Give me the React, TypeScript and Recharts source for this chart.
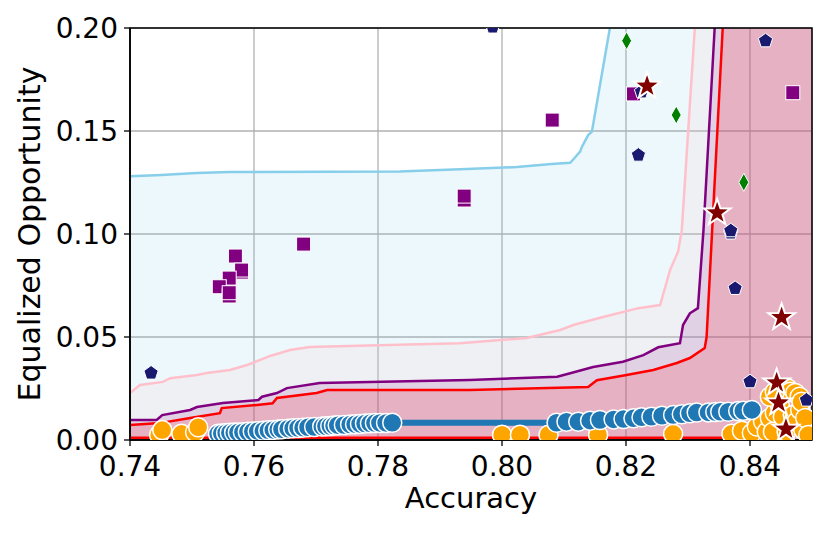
import React from "react";
import {
  ComposedChart,
  Area,
  Line,
  Scatter,
  XAxis,
  YAxis,
  CartesianGrid,
  ReferenceArea,
  Label,
} from "recharts";

type Pt = { x: number; y: number };
const pts = (rows: number[][]): Pt[] => rows.map(([x, y]) => ({ x, y }));

// axis ticks
const xTicks = [0.74, 0.76, 0.78, 0.8, 0.82, 0.84];
const yTicks = [0, 0.05, 0.1, 0.15, 0.2];

// fronts (values above 0.20 run off the top of the plot)
const skyFront = pts([
  [0.74, 0.128], [0.7451, 0.1286], [0.7507, 0.1296], [0.7561, 0.1301], [0.7835, 0.1303],
  [0.7943, 0.1315], [0.8024, 0.1325], [0.808, 0.134], [0.811, 0.1346], [0.8117, 0.1369],
  [0.8126, 0.14], [0.8129, 0.1424], [0.8139, 0.148], [0.8145, 0.1497], [0.8174, 0.2],
  [0.8196, 0.25], [0.85, 0.25],
]);
const pinkFront = pts([
  [0.74, 0.0228], [0.7416, 0.0267], [0.7453, 0.0282], [0.7465, 0.03], [0.7508, 0.0316],
  [0.7524, 0.0325], [0.7561, 0.034], [0.7589, 0.0364], [0.7626, 0.0408], [0.7658, 0.0437],
  [0.769, 0.0451], [0.78, 0.046], [0.7932, 0.047], [0.804, 0.0495], [0.8094, 0.0534],
  [0.8115, 0.0558], [0.8163, 0.0597], [0.822, 0.064], [0.8255, 0.0655], [0.8271, 0.0825],
  [0.8284, 0.0914], [0.829, 0.102], [0.8311, 0.2], [0.8322, 0.25], [0.85, 0.25],
]);
const purpleFront = pts([
  [0.74, 0.0097], [0.7443, 0.0097], [0.7452, 0.0121], [0.7497, 0.0146], [0.7508, 0.016],
  [0.755, 0.018], [0.7607, 0.0194], [0.7613, 0.021], [0.7637, 0.0228], [0.7653, 0.0252],
  [0.7706, 0.0277], [0.7948, 0.0291], [0.8089, 0.0307], [0.811, 0.0324], [0.8147, 0.0354],
  [0.8195, 0.038], [0.8228, 0.0412], [0.8252, 0.045], [0.8287, 0.047], [0.8292, 0.0558],
  [0.8303, 0.0615], [0.8316, 0.064], [0.8325, 0.102], [0.8343, 0.2], [0.8352, 0.25],
  [0.85, 0.25],
]);
const redFront = pts([
  [0.74, 0.0073], [0.7448, 0.0082], [0.7497, 0.0107], [0.7545, 0.013], [0.7548, 0.0155],
  [0.7605, 0.017], [0.763, 0.0178], [0.7637, 0.0204], [0.7701, 0.0228], [0.7718, 0.0243],
  [0.7948, 0.0243], [0.8139, 0.0257], [0.8153, 0.029], [0.8201, 0.0316], [0.8244, 0.034],
  [0.8282, 0.0374], [0.8303, 0.0398], [0.8327, 0.0447], [0.833, 0.05], [0.8339, 0.102],
  [0.8356, 0.2], [0.8365, 0.25], [0.85, 0.25],
]);
const bottomFront = pts([[0.74, 0.0011], [0.845, 0.0011], [0.8476, 0.0024], [0.85, 0.0035]]);

// scatter groups
const bluePts = pts([
  [0.7542, 0.003], [0.7548, 0.0032], [0.7555, 0.0034], [0.7561, 0.0035], [0.7568, 0.0036],
  [0.7574, 0.0037], [0.7582, 0.0038], [0.759, 0.004], [0.7598, 0.0041], [0.7606, 0.0043],
  [0.7615, 0.0045], [0.7623, 0.0047], [0.7631, 0.0049], [0.7639, 0.0051], [0.7645, 0.0052],
  [0.7655, 0.0055], [0.7663, 0.0057], [0.7671, 0.0058], [0.7679, 0.006], [0.7687, 0.0062],
  [0.7697, 0.0063], [0.771, 0.0065], [0.7716, 0.0067], [0.7723, 0.0068], [0.7729, 0.007],
  [0.7735, 0.0072], [0.7745, 0.0073], [0.7755, 0.0075], [0.7763, 0.0077], [0.7771, 0.0078],
  [0.7779, 0.008], [0.7787, 0.0081], [0.7795, 0.0082], [0.7803, 0.0083], [0.7813, 0.0083],
  [0.7823, 0.0084],
  [0.8088, 0.0084], [0.8104, 0.0089], [0.8123, 0.0089], [0.8142, 0.0094], [0.8158, 0.0097],
  [0.818, 0.01], [0.8196, 0.0102], [0.8212, 0.0105], [0.8225, 0.011], [0.8241, 0.0113],
  [0.8258, 0.0118], [0.8276, 0.0121], [0.829, 0.0125], [0.8303, 0.013], [0.8314, 0.0133],
  [0.8333, 0.0134], [0.8344, 0.0136], [0.8352, 0.0137], [0.8365, 0.0137], [0.8381, 0.0141],
  [0.8389, 0.0142], [0.8403, 0.0146],
]);
const orangePts = pts([
  [0.7447, 0.0026], [0.7452, 0.0048], [0.7483, 0.003], [0.7505, 0.0038], [0.751, 0.0062],
  [0.8, 0.0026], [0.8029, 0.0026], [0.8075, 0.0026], [0.8155, 0.0026], [0.8276, 0.003],
  [0.837, 0.003], [0.8387, 0.0045], [0.8403, 0.0034], [0.8411, 0.0065], [0.8421, 0.009],
  [0.8427, 0.004], [0.8432, 0.0107], [0.8437, 0.004], [0.844, 0.0131], [0.8448, 0.017],
  [0.8453, 0.0113], [0.8459, 0.004], [0.8461, 0.025], [0.8465, 0.0234], [0.8469, 0.0121],
  [0.8473, 0.0228], [0.8475, 0.0089], [0.848, 0.021], [0.8481, 0.0146], [0.8483, 0.0186],
  [0.8486, 0.0049], [0.8489, 0.0107], [0.8494, 0.0024], [0.8432, 0.021], [0.844, 0.0234],
]);
const squarePts = pts([
  [0.8081, 0.1553], [0.7939, 0.1165], [0.7939, 0.1184], [0.768, 0.0951], [0.757, 0.0893],
  [0.758, 0.0815], [0.758, 0.0825], [0.756, 0.0786], [0.7544, 0.0744], [0.756, 0.0699],
  [0.756, 0.0715], [0.8212, 0.168], [0.8469, 0.1686],
]);
const pentagonPts = pts([
  [0.7434, 0.0325], [0.7985, 0.2005], [0.822, 0.1383], [0.8225, 0.169], [0.8425, 0.1938],
  [0.8369, 0.1005], [0.8369, 0.1016], [0.8376, 0.0736], [0.84, 0.0283], [0.8491, 0.0194],
]);
const diamondPts = pts([[0.8201, 0.1938], [0.8281, 0.1578], [0.839, 0.1251]]);
const starPts = pts([
  [0.8234, 0.1718], [0.8347, 0.1103], [0.8451, 0.0595], [0.8443, 0.0278], [0.8446, 0.0181],
  [0.8458, 0.0053],
]);

const font = "DejaVu Sans, sans-serif";

const polygon = (cx: number, cy: number, n: number, rOut: number, rIn?: number) => {
  const step = rIn ? n * 2 : n;
  const out: string[] = [];
  for (let i = 0; i < step; i++) {
    const a = -Math.PI / 2 + (i * 2 * Math.PI) / step;
    const r = rIn && i % 2 === 1 ? rIn : rOut;
    out.push(`${cx + r * Math.cos(a)},${cy + r * Math.sin(a)}`);
  }
  return out.join(" ");
};

const circle = (fill: string) => (p: any) => (
  <circle cx={p.cx} cy={p.cy} r={9.5} fill={fill} stroke="#fff" strokeWidth={1.5} />
);
const square = (p: any) => (
  <rect x={p.cx - 7} y={p.cy - 7} width={14} height={14} fill="#800080" stroke="#fff" strokeWidth={1} />
);
const pentagon = (p: any) => (
  <polygon points={polygon(p.cx, p.cy, 5, 7.5)} fill="#191970" stroke="#fff" strokeWidth={1} />
);
const diamond = (p: any) => (
  <path
    d={`M${p.cx},${p.cy - 9} L${p.cx + 5},${p.cy} L${p.cx},${p.cy + 9} L${p.cx - 5},${p.cy} Z`}
    fill="#008000"
    stroke="#fff"
    strokeWidth={1}
  />
);
const star = (p: any) => (
  <polygon points={polygon(p.cx, p.cy, 5, 14, 5.6)} fill="#800000" stroke="#fff" strokeWidth={2} />
);

const fronts = [
  { data: skyFront, color: "#87ceeb", opacity: 0.15 },
  { data: pinkFront, color: "#ffc0cb", opacity: 0.15 },
  { data: purpleFront, color: "#800080", opacity: 0.13 },
  { data: redFront, color: "#ff0000", opacity: 0.15 },
];

export default function App() {
  return (
    <div style={{ position: "absolute", left: 0, top: 0, fontFamily: font }}>
      <ComposedChart width={830} height={534} margin={{ top: 28, right: 18, bottom: 34, left: 30 }}>
        <CartesianGrid stroke="#b0b0b0" strokeWidth={1.3} />
        <XAxis
          type="number"
          dataKey="x"
          domain={[0.74, 0.85]}
          allowDataOverflow
          ticks={xTicks}
          tickFormatter={(v: number) => v.toFixed(2)}
          height={60}
          tickSize={6}
          tickMargin={10}
          tick={{ fontSize: 28, fill: "#000", fontFamily: font }}
          axisLine={{ stroke: "#000", strokeWidth: 1.5 }}
          tickLine={{ stroke: "#000", strokeWidth: 1.3 }}
        >
          <Label
            content={({ viewBox }: any) => (
              <text
                x={viewBox.x + viewBox.width / 2}
                y={viewBox.y + 68}
                textAnchor="middle"
                fontSize={29}
                fontFamily={font}
                fill="#000"
              >
                Accuracy
              </text>
            )}
          />
        </XAxis>
        <YAxis
          type="number"
          domain={[0, 0.2]}
          allowDataOverflow
          ticks={yTicks}
          tickFormatter={(v: number) => v.toFixed(2)}
          width={100}
          tickSize={6}
          tickMargin={6}
          tick={{ fontSize: 28, fill: "#000", fontFamily: font }}
          axisLine={{ stroke: "#000", strokeWidth: 1.5 }}
          tickLine={{ stroke: "#000", strokeWidth: 1.3 }}
        >
          <Label
            content={({ viewBox }: any) => {
              const x = viewBox.x + 10;
              const y = viewBox.y + viewBox.height / 2;
              return (
                <text
                  x={x}
                  y={y}
                  transform={`rotate(-90, ${x}, ${y})`}
                  textAnchor="middle"
                  fontSize={30}
                  fontFamily={font}
                  fill="#000"
                >
                  Equalized Opportunity
                </text>
              );
            }}
          />
        </YAxis>

        {fronts.map((f, i) => (
          <Area
            key={i}
            data={f.data}
            dataKey="y"
            type="linear"
            baseValue={0}
            stroke={f.color}
            strokeWidth={2.5}
            fill={f.color}
            fillOpacity={f.opacity}
            dot={false}
            activeDot={false}
            isAnimationActive={false}
          />
        ))}

        <Line
          data={bluePts}
          dataKey="y"
          type="linear"
          stroke="#1f77b4"
          strokeWidth={6}
          dot={false}
          activeDot={false}
          isAnimationActive={false}
        />
        <Scatter data={orangePts} dataKey="y" shape={circle("#ffa500")} isAnimationActive={false} />
        <Scatter data={bluePts} dataKey="y" shape={circle("#1f77b4")} isAnimationActive={false} />
        <Scatter data={squarePts} dataKey="y" shape={square} isAnimationActive={false} />
        <Scatter data={pentagonPts} dataKey="y" shape={pentagon} isAnimationActive={false} />
        <Scatter data={diamondPts} dataKey="y" shape={diamond} isAnimationActive={false} />
        <Scatter data={starPts} dataKey="y" shape={star} isAnimationActive={false} />

        <Line
          data={bottomFront}
          dataKey="y"
          type="linear"
          stroke="#ff0000"
          strokeWidth={2.5}
          dot={false}
          activeDot={false}
          isAnimationActive={false}
        />
        <ReferenceArea x1={0.74} x2={0.85} y1={0} y2={0.2} fill="none" stroke="#000" strokeWidth={1.5} />
      </ComposedChart>
    </div>
  );
}
